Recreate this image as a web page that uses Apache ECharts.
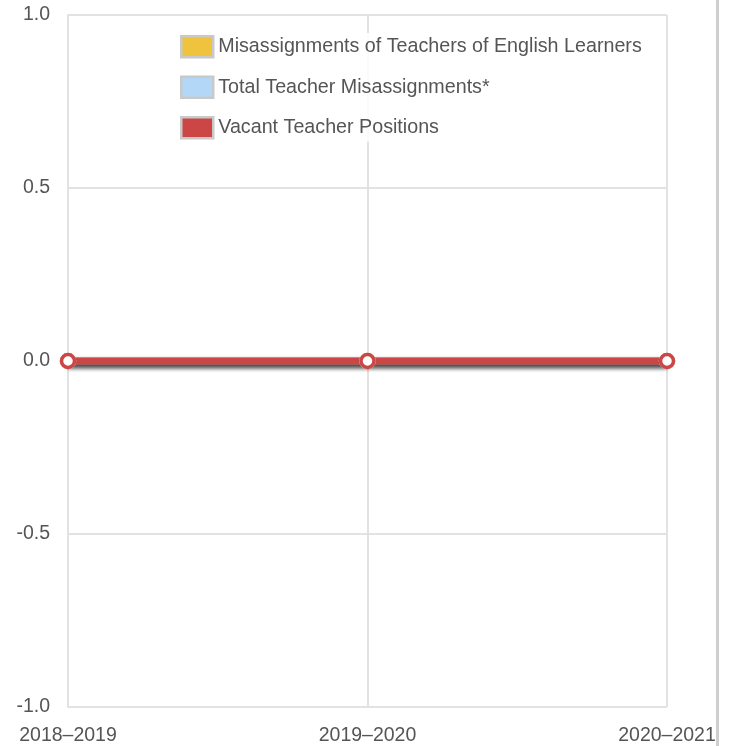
<!DOCTYPE html>
<html>
<head>
<meta charset="utf-8">
<script src="https://cdn.jsdelivr.net/npm/echarts@6/dist/echarts.min.js"></script>
<style>
html,body{margin:0;padding:0;background:#fff;}
#chart{width:730px;height:746px;}
</style>
</head>
<body>
<div id="chart"></div>
<script>
const categories = ['2018–2019', '2019–2020', '2020–2021'];
const misassignELValues = [0, 0, 0];
const totalMisassignValues = [0, 0, 0];
const vacantValues = [0, 0, 0];
const yTicks = [-1, -0.5, 0, 0.5, 1];

const font = 'Helvetica, "Liberation Sans", Arial, sans-serif';
const gridColor = '#e2e2e2';

function makeSeries(name, data, color) {
  return {
    name: name,
    type: 'line',
    data: data,
    symbol: 'circle',
    symbolSize: 13,
    showSymbol: true,
    lineStyle: { width: 7, color: color, shadowColor: 'rgba(0,0,0,0.4)', shadowBlur: 5, shadowOffsetY: 3 },
    itemStyle: { color: '#fff', borderColor: color, borderWidth: 3.5 },
    emphasis: { disabled: true },
    z: 3
  };
}

const chart = echarts.init(document.getElementById('chart'), null, { renderer: 'canvas' });
chart.setOption({
  animation: false,
  grid: { left: 68, right: 63, top: 15, bottom: 39, containLabel: false },
  legend: {
    orient: 'vertical',
    left: 178,
    top: 33,
    icon: 'rect',
    itemWidth: 32,
    itemHeight: 21,
    itemGap: 17,
    itemTextGap: 6,
    padding: [2, 6, 2, 2],
    backgroundColor: 'rgba(255,255,255,0.85)',
    textStyle: { fontSize: 19.7, color: '#555', fontFamily: font },
    data: [
      { name: 'Misassignments of Teachers of English Learners', itemStyle: { color: '#EFC33D', borderColor: '#c9c9c9', borderWidth: 2.5 } },
      { name: 'Total Teacher Misassignments*', itemStyle: { color: '#B3D8F7', borderColor: '#c9c9c9', borderWidth: 2.5 } },
      { name: 'Vacant Teacher Positions', itemStyle: { color: '#CC4646', borderColor: '#c9c9c9', borderWidth: 2.5 } }
    ]
  },
  xAxis: {
    type: 'category',
    data: categories,
    boundaryGap: false,
    axisLine: { show: true, lineStyle: { color: gridColor, width: 2 } },
    axisTick: { show: false },
    splitLine: { show: true, lineStyle: { color: gridColor, width: 2 } },
    axisLabel: { fontSize: 19.5, color: '#555', fontFamily: font, margin: 19, showMinLabel: true, showMaxLabel: true }
  },
  yAxis: {
    type: 'value',
    min: yTicks[0],
    max: yTicks[yTicks.length - 1],
    interval: yTicks[1] - yTicks[0],
    axisLine: { show: true, lineStyle: { color: gridColor, width: 2 } },
    axisTick: { show: false },
    splitLine: { show: true, lineStyle: { color: gridColor, width: 2 } },
    axisLabel: { fontSize: 19.5, color: '#555', fontFamily: font, margin: 18, formatter: v => v.toFixed(1) }
  },
  graphic: [
    { type: 'rect', left: 716, top: 0, shape: { width: 3, height: 746 }, style: { fill: '#cfcfcf' }, silent: true }
  ],
  series: [
    makeSeries('Misassignments of Teachers of English Learners', misassignELValues, '#EFC33D'),
    makeSeries('Total Teacher Misassignments*', totalMisassignValues, '#B3D8F7'),
    makeSeries('Vacant Teacher Positions', vacantValues, '#CC4646')
  ]
});
</script>
</body>
</html>
